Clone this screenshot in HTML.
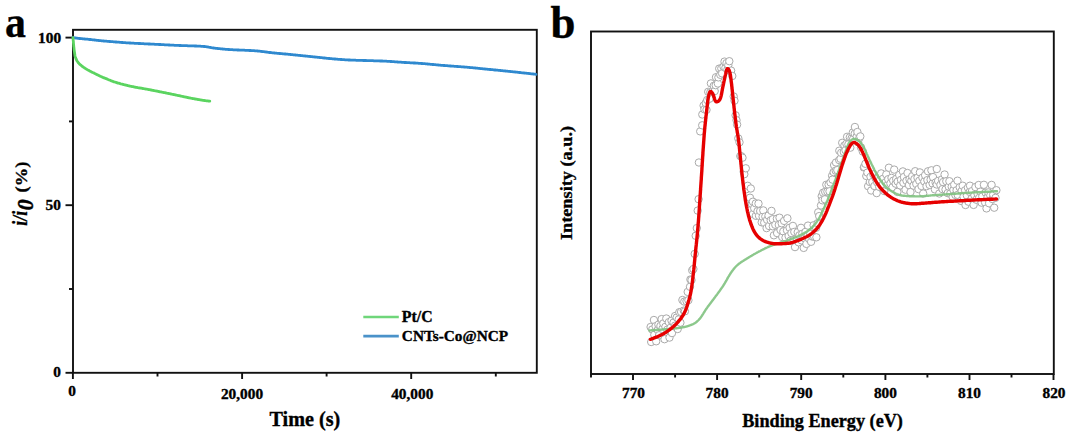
<!DOCTYPE html>
<html><head><meta charset="utf-8"><style>
html,body{margin:0;padding:0;background:#fff;width:1070px;height:437px;overflow:hidden;font-family:"Liberation Serif",serif;}
svg{display:block}
</style></head><body>
<svg width="1070" height="437" viewBox="0 0 1070 437">
<rect width="1070" height="437" fill="#fff"/>
<g font-family="Liberation Serif" font-weight="bold" fill="#000" stroke="#000" stroke-width="0.35">
<g transform="matrix(0.9511 0 0 1.0217 4.98 37.17)"><text x="0" y="0" font-size="44" text-anchor="start">a</text></g>
<g transform="matrix(0.9965 0 0 1.0206 550.60 38.00)"><text x="0" y="0" font-size="45" text-anchor="start">b</text></g>
<g transform="matrix(1.0500 0 0 1.0500 61.11 42.52)"><text x="0" y="0" font-size="14.6" text-anchor="end">100</text></g>
<g transform="matrix(1.0500 0 0 1.0500 60.94 209.87)"><text x="0" y="0" font-size="14.6" text-anchor="end">50</text></g>
<g transform="matrix(1.0500 0 0 1.0500 60.84 377.06)"><text x="0" y="0" font-size="14.6" text-anchor="end">0</text></g>
<g transform="matrix(1.0500 0 0 1.0500 72.06 396.22)"><text x="0" y="0" font-size="14.6" text-anchor="middle">0</text></g>
<g transform="matrix(1.0500 0 0 1.0500 242.00 399.11)"><text x="0" y="0" font-size="14.6" text-anchor="middle">20,000</text></g>
<g transform="matrix(1.0500 0 0 1.0500 412.23 398.71)"><text x="0" y="0" font-size="14.6" text-anchor="middle">40,000</text></g>
<g transform="matrix(0.9989 0 0 1.0114 304.86 425.75)"><text x="0" y="0" font-size="20.2" text-anchor="middle">Time (s)</text></g>
<g transform="matrix(1.0001 0 0 0.8804 26.50 225.65)"><text x="0" y="0" font-size="20" text-anchor="start" transform="rotate(-90)"><tspan font-style="italic">i/i</tspan></text></g>
<g transform="matrix(1.1132 0 0 1.0592 32.80 210.13)"><text x="0" y="0" font-size="20.5" text-anchor="start" transform="rotate(-90)"><tspan font-style="italic">0</tspan></text></g>
<g transform="matrix(0.9307 0 0 1.0550 26.78 192.38)"><text x="0" y="0" font-size="17.5" text-anchor="start" transform="rotate(-90)">(%)</text></g>
<g transform="matrix(1.0543 0 0 1.0543 401.83 322.40)"><text x="0" y="0" font-size="15" text-anchor="start">Pt/C</text></g>
<g transform="matrix(1.0196 0 0 1.0196 401.86 341.40)"><text x="0" y="0" font-size="15" text-anchor="start">CNTs-Co@NCP</text></g>
<g transform="matrix(0.8785 0 0 0.9933 571.90 183.00)"><text x="0" y="0" font-size="18.4" text-anchor="middle" transform="rotate(-90)">Intensity (a.u.)</text></g>
<g transform="matrix(1.0057 0 0 1.0057 822.55 427.07)"><text x="0" y="0" font-size="18.1" text-anchor="middle">Binding Energy (eV)</text></g>
<g transform="matrix(1.0500 0 0 1.0500 633.48 397.53)"><text x="0" y="0" font-size="14.6" text-anchor="middle">770</text></g>
<g transform="matrix(1.0500 0 0 1.0500 717.08 397.99)"><text x="0" y="0" font-size="14.6" text-anchor="middle">780</text></g>
<g transform="matrix(1.0500 0 0 1.0500 801.18 397.53)"><text x="0" y="0" font-size="14.6" text-anchor="middle">790</text></g>
<g transform="matrix(1.0500 0 0 1.0500 885.40 397.99)"><text x="0" y="0" font-size="14.6" text-anchor="middle">800</text></g>
<g transform="matrix(1.0500 0 0 1.0500 969.49 397.53)"><text x="0" y="0" font-size="14.6" text-anchor="middle">810</text></g>
<g transform="matrix(1.0500 0 0 1.0500 1054.00 397.99)"><text x="0" y="0" font-size="14.6" text-anchor="middle">820</text></g>
</g>
<rect x="73" y="29.8" width="463.8" height="343" fill="none" stroke="#111" stroke-width="1.9"/>
<line x1="65.5" y1="372.8" x2="73" y2="372.8" stroke="#111" stroke-width="1.9"/>
<line x1="65.5" y1="205.2" x2="73" y2="205.2" stroke="#111" stroke-width="1.9"/>
<line x1="65.5" y1="37.6" x2="73" y2="37.6" stroke="#111" stroke-width="1.9"/>
<line x1="69" y1="289.0" x2="73" y2="289.0" stroke="#111" stroke-width="1.9"/>
<line x1="69" y1="121.4" x2="73" y2="121.4" stroke="#111" stroke-width="1.9"/>
<line x1="72.9" y1="372.8" x2="72.9" y2="379" stroke="#111" stroke-width="1.9"/>
<line x1="242.1" y1="372.8" x2="242.1" y2="379" stroke="#111" stroke-width="1.9"/>
<line x1="411.2" y1="372.8" x2="411.2" y2="379" stroke="#111" stroke-width="1.9"/>
<line x1="157.5" y1="372.8" x2="157.5" y2="376.5" stroke="#111" stroke-width="1.9"/>
<line x1="326.6" y1="372.8" x2="326.6" y2="376.5" stroke="#111" stroke-width="1.9"/>
<line x1="495.8" y1="372.8" x2="495.8" y2="376.5" stroke="#111" stroke-width="1.9"/>
<path d="M73.0 37.6 L73.8 37.7 L74.5 37.8 L75.1 37.9 L75.8 38.0 L76.5 38.1 L77.2 38.2 L77.9 38.3 L78.6 38.4 L79.3 38.5 L80.0 38.5 L80.7 38.6 L81.4 38.7 L82.1 38.7 L82.7 38.8 L83.4 38.9 L84.1 38.9 L84.8 39.0 L85.5 39.1 L86.2 39.1 L86.9 39.2 L87.6 39.2 L88.3 39.3 L89.0 39.4 L89.7 39.5 L90.4 39.5 L91.1 39.6 L91.8 39.7 L92.5 39.8 L93.2 39.9 L93.9 39.9 L94.6 40.0 L95.3 40.1 L96.0 40.2 L96.7 40.3 L97.4 40.4 L98.1 40.4 L98.8 40.5 L99.5 40.6 L100.2 40.7 L100.9 40.7 L101.6 40.8 L102.3 40.9 L103.0 40.9 L103.7 41.0 L104.4 41.1 L105.1 41.1 L105.8 41.2 L106.5 41.2 L107.2 41.3 L107.9 41.3 L108.6 41.4 L109.3 41.5 L110.0 41.5 L110.7 41.6 L111.4 41.6 L112.1 41.7 L112.8 41.7 L113.5 41.8 L114.2 41.8 L114.9 41.9 L115.6 42.0 L116.3 42.0 L117.0 42.1 L117.7 42.1 L118.4 42.2 L119.1 42.2 L119.8 42.3 L120.5 42.4 L121.2 42.4 L121.9 42.5 L122.6 42.5 L123.3 42.6 L124.0 42.6 L124.7 42.7 L125.4 42.7 L126.1 42.8 L126.8 42.8 L127.5 42.9 L128.2 42.9 L128.9 42.9 L129.6 43.0 L130.3 43.0 L131.0 43.1 L131.7 43.1 L132.4 43.1 L133.1 43.2 L133.8 43.2 L134.5 43.3 L135.2 43.3 L135.9 43.3 L136.6 43.4 L137.3 43.4 L138.0 43.4 L138.7 43.5 L139.4 43.5 L140.1 43.5 L140.8 43.6 L141.5 43.6 L142.2 43.6 L142.9 43.7 L143.6 43.7 L144.3 43.8 L145.0 43.8 L145.7 43.8 L146.4 43.9 L147.1 43.9 L147.8 43.9 L148.5 44.0 L149.2 44.0 L149.9 44.0 L150.6 44.1 L151.3 44.1 L152.0 44.1 L152.7 44.2 L153.4 44.2 L154.1 44.2 L154.8 44.3 L155.5 44.3 L156.2 44.3 L156.9 44.4 L157.6 44.4 L158.3 44.4 L159.0 44.5 L159.7 44.5 L160.4 44.5 L161.1 44.6 L161.8 44.6 L162.5 44.7 L163.2 44.7 L163.9 44.7 L164.6 44.8 L165.3 44.8 L166.0 44.8 L166.7 44.9 L167.4 44.9 L168.1 44.9 L168.8 45.0 L169.5 45.0 L170.2 45.1 L170.9 45.1 L171.6 45.1 L172.3 45.2 L173.0 45.2 L173.7 45.2 L174.4 45.3 L175.1 45.3 L175.9 45.3 L176.6 45.4 L177.3 45.4 L178.0 45.4 L178.7 45.4 L179.4 45.5 L180.1 45.5 L180.8 45.5 L181.5 45.6 L182.2 45.6 L182.9 45.6 L183.6 45.6 L184.3 45.6 L185.0 45.7 L185.7 45.7 L186.4 45.7 L187.1 45.7 L187.8 45.8 L188.5 45.8 L189.2 45.8 L189.9 45.8 L190.6 45.8 L191.3 45.9 L192.0 45.9 L192.7 45.9 L193.4 45.9 L194.1 45.9 L194.8 46.0 L195.5 46.0 L196.2 46.0 L196.9 46.1 L197.6 46.1 L198.3 46.1 L199.0 46.2 L199.7 46.2 L200.4 46.2 L201.1 46.3 L201.8 46.3 L202.5 46.4 L203.2 46.4 L203.9 46.5 L204.6 46.5 L205.3 46.6 L206.0 46.7 L206.7 46.8 L207.4 46.9 L208.1 47.0 L208.8 47.2 L209.5 47.3 L210.1 47.4 L210.8 47.5 L211.5 47.7 L212.2 47.8 L212.9 47.9 L213.6 48.0 L214.3 48.1 L215.0 48.2 L215.7 48.3 L216.4 48.3 L217.1 48.4 L217.8 48.5 L218.5 48.6 L219.2 48.7 L219.9 48.7 L220.6 48.8 L221.3 48.9 L222.0 48.9 L222.7 49.0 L223.4 49.1 L224.1 49.1 L224.8 49.2 L225.5 49.3 L226.2 49.3 L226.9 49.4 L227.6 49.4 L228.3 49.5 L229.0 49.5 L229.7 49.6 L230.4 49.6 L231.1 49.7 L231.8 49.7 L232.5 49.7 L233.2 49.8 L233.9 49.8 L234.6 49.9 L235.3 49.9 L236.0 49.9 L236.7 49.9 L237.4 50.0 L238.1 50.0 L238.8 50.0 L239.5 50.1 L240.2 50.1 L240.9 50.1 L241.6 50.1 L242.3 50.2 L243.0 50.2 L243.7 50.2 L244.4 50.2 L245.1 50.3 L245.8 50.3 L246.5 50.3 L247.2 50.4 L247.9 50.4 L248.6 50.4 L249.3 50.5 L250.0 50.5 L250.7 50.5 L251.4 50.6 L252.1 50.6 L252.8 50.6 L253.5 50.7 L254.2 50.7 L254.9 50.8 L255.6 50.8 L256.3 50.9 L257.0 50.9 L257.7 51.0 L258.4 51.1 L259.1 51.1 L259.8 51.2 L260.5 51.3 L261.2 51.4 L261.9 51.5 L262.6 51.6 L263.3 51.7 L264.0 51.7 L264.7 51.8 L265.4 51.9 L266.1 52.0 L266.8 52.1 L267.5 52.2 L268.2 52.3 L268.9 52.4 L269.5 52.5 L270.2 52.5 L270.9 52.6 L271.6 52.7 L272.3 52.8 L273.0 52.8 L273.7 52.9 L274.4 53.0 L275.1 53.1 L275.8 53.1 L276.5 53.2 L277.2 53.3 L277.9 53.3 L278.6 53.4 L279.3 53.5 L280.0 53.5 L280.7 53.6 L281.4 53.7 L282.1 53.7 L282.8 53.8 L283.5 53.8 L284.2 53.9 L284.9 54.0 L285.6 54.0 L286.3 54.1 L287.0 54.2 L287.7 54.2 L288.4 54.3 L289.1 54.4 L289.8 54.4 L290.5 54.5 L291.2 54.6 L291.9 54.6 L292.6 54.7 L293.3 54.8 L294.0 54.9 L294.7 54.9 L295.4 55.0 L296.1 55.1 L296.8 55.1 L297.5 55.2 L298.2 55.3 L298.9 55.3 L299.6 55.4 L300.3 55.5 L301.0 55.6 L301.7 55.6 L302.4 55.7 L303.1 55.8 L303.8 55.8 L304.5 55.9 L305.2 56.0 L305.9 56.1 L306.6 56.1 L307.3 56.2 L308.0 56.3 L308.7 56.4 L309.4 56.4 L310.1 56.5 L310.8 56.6 L311.5 56.6 L312.2 56.7 L312.9 56.8 L313.5 56.9 L314.2 56.9 L314.9 57.0 L315.6 57.1 L316.3 57.2 L317.0 57.2 L317.7 57.3 L318.4 57.4 L319.1 57.4 L319.8 57.5 L320.5 57.6 L321.2 57.7 L321.9 57.7 L322.6 57.8 L323.3 57.9 L324.0 58.0 L324.7 58.0 L325.4 58.1 L326.1 58.2 L326.8 58.3 L327.5 58.3 L328.2 58.4 L328.9 58.5 L329.6 58.5 L330.3 58.6 L331.0 58.7 L331.7 58.7 L332.4 58.8 L333.1 58.9 L333.8 58.9 L334.5 59.0 L335.2 59.0 L335.9 59.1 L336.6 59.2 L337.3 59.2 L338.0 59.3 L338.7 59.3 L339.4 59.4 L340.1 59.4 L340.8 59.5 L341.5 59.5 L342.2 59.6 L342.9 59.6 L343.6 59.7 L344.3 59.7 L345.0 59.8 L345.7 59.8 L346.4 59.8 L347.1 59.9 L347.8 59.9 L348.5 60.0 L349.2 60.0 L349.9 60.0 L350.6 60.1 L351.3 60.1 L352.0 60.1 L352.7 60.1 L353.4 60.2 L354.1 60.2 L354.8 60.2 L355.5 60.2 L356.2 60.3 L356.9 60.3 L357.6 60.3 L358.3 60.3 L359.0 60.3 L359.7 60.4 L360.4 60.4 L361.1 60.4 L361.8 60.4 L362.5 60.4 L363.2 60.5 L363.9 60.5 L364.6 60.5 L365.3 60.5 L366.0 60.5 L366.7 60.6 L367.4 60.6 L368.1 60.6 L368.8 60.6 L369.5 60.6 L370.3 60.7 L371.0 60.7 L371.7 60.7 L372.4 60.7 L373.1 60.7 L373.8 60.8 L374.5 60.8 L375.2 60.8 L375.9 60.8 L376.6 60.9 L377.3 60.9 L378.0 60.9 L378.7 60.9 L379.4 60.9 L380.1 61.0 L380.8 61.0 L381.5 61.0 L382.2 61.0 L382.9 61.1 L383.6 61.1 L384.3 61.1 L385.0 61.2 L385.7 61.2 L386.4 61.2 L387.1 61.3 L387.8 61.3 L388.5 61.3 L389.2 61.4 L389.9 61.4 L390.6 61.5 L391.3 61.5 L392.0 61.6 L392.7 61.6 L393.4 61.7 L394.1 61.7 L394.8 61.8 L395.5 61.8 L396.2 61.9 L396.9 61.9 L397.6 62.0 L398.3 62.1 L399.0 62.1 L399.7 62.2 L400.4 62.2 L401.1 62.2 L401.8 62.3 L402.5 62.3 L403.2 62.4 L403.9 62.4 L404.6 62.5 L405.3 62.5 L406.0 62.5 L406.7 62.6 L407.4 62.6 L408.1 62.7 L408.8 62.7 L409.5 62.7 L410.2 62.8 L410.9 62.8 L411.6 62.8 L412.3 62.9 L413.0 62.9 L413.7 63.0 L414.4 63.0 L415.1 63.0 L415.8 63.1 L416.5 63.1 L417.2 63.2 L417.9 63.2 L418.6 63.3 L419.3 63.3 L420.0 63.4 L420.7 63.4 L421.4 63.5 L422.1 63.5 L422.8 63.6 L423.5 63.6 L424.2 63.7 L424.9 63.7 L425.6 63.8 L426.3 63.9 L427.0 63.9 L427.7 64.0 L428.4 64.1 L429.1 64.1 L429.8 64.2 L430.5 64.3 L431.2 64.3 L431.9 64.4 L432.6 64.5 L433.3 64.5 L434.0 64.6 L434.7 64.7 L435.4 64.7 L436.1 64.8 L436.8 64.9 L437.5 64.9 L438.2 65.0 L438.9 65.1 L439.6 65.1 L440.3 65.2 L441.0 65.3 L441.7 65.3 L442.4 65.4 L443.1 65.4 L443.8 65.5 L444.5 65.5 L445.2 65.6 L445.9 65.6 L446.6 65.7 L447.3 65.7 L448.0 65.8 L448.7 65.9 L449.4 65.9 L450.1 66.0 L450.8 66.0 L451.5 66.1 L452.2 66.1 L452.9 66.2 L453.6 66.2 L454.3 66.3 L455.0 66.3 L455.7 66.4 L456.4 66.4 L457.1 66.5 L457.8 66.5 L458.5 66.6 L459.2 66.6 L459.9 66.7 L460.6 66.7 L461.3 66.8 L462.0 66.8 L462.7 66.9 L463.4 66.9 L464.1 67.0 L464.8 67.1 L465.5 67.1 L466.2 67.2 L466.9 67.2 L467.6 67.3 L468.3 67.4 L469.0 67.4 L469.7 67.5 L470.4 67.6 L471.1 67.6 L471.8 67.7 L472.5 67.7 L473.2 67.8 L473.9 67.9 L474.6 67.9 L475.3 68.0 L476.0 68.1 L476.7 68.2 L477.4 68.2 L478.1 68.3 L478.8 68.4 L479.5 68.4 L480.1 68.5 L480.8 68.6 L481.5 68.6 L482.2 68.7 L482.9 68.8 L483.6 68.8 L484.3 68.9 L485.0 69.0 L485.7 69.1 L486.4 69.1 L487.1 69.2 L487.8 69.3 L488.5 69.3 L489.2 69.4 L489.9 69.5 L490.6 69.5 L491.3 69.6 L492.0 69.7 L492.7 69.7 L493.4 69.8 L494.1 69.9 L494.8 70.0 L495.5 70.0 L496.2 70.1 L496.9 70.2 L497.6 70.2 L498.3 70.3 L499.0 70.4 L499.7 70.4 L500.4 70.5 L501.1 70.6 L501.8 70.7 L502.5 70.7 L503.2 70.8 L503.9 70.9 L504.6 70.9 L505.3 71.0 L506.0 71.1 L506.7 71.1 L507.4 71.2 L508.1 71.3 L508.8 71.4 L509.5 71.4 L510.2 71.5 L510.9 71.6 L511.6 71.7 L512.3 71.7 L513.0 71.8 L513.7 71.9 L514.4 71.9 L515.1 72.0 L515.8 72.1 L516.5 72.2 L517.2 72.2 L517.9 72.3 L518.6 72.4 L519.3 72.5 L520.0 72.5 L520.7 72.6 L521.3 72.7 L522.0 72.8 L522.7 72.8 L523.4 72.9 L524.1 73.0 L524.8 73.1 L525.5 73.1 L526.2 73.2 L526.9 73.3 L527.6 73.4 L528.3 73.4 L529.0 73.5 L529.7 73.6 L530.4 73.7 L531.1 73.8 L531.8 73.8 L532.5 73.9 L533.2 74.0 L533.9 74.1 L534.5 74.1 L535.2 74.2 L536.0 74.3" fill="none" stroke="#2f89cf" stroke-width="2.8" stroke-linejoin="round" stroke-linecap="round"/>
<path d="M73.0 37.6 L73.1 38.4 L73.1 39.1 L73.2 39.8 L73.2 40.4 L73.3 41.1 L73.4 41.8 L73.4 42.5 L73.5 43.2 L73.5 43.9 L73.6 44.6 L73.7 45.3 L73.7 46.0 L73.8 46.7 L73.9 47.4 L74.0 48.1 L74.0 48.8 L74.1 49.5 L74.2 50.2 L74.3 50.9 L74.4 51.6 L74.5 52.3 L74.6 53.0 L74.7 53.7 L74.8 54.4 L74.9 55.1 L75.0 55.8 L75.2 56.5 L75.4 57.1 L75.6 57.8 L75.9 58.5 L76.1 59.1 L76.4 59.7 L76.7 60.4 L77.1 61.0 L77.5 61.5 L77.9 62.1 L78.3 62.7 L78.8 63.2 L79.2 63.7 L79.7 64.2 L80.2 64.7 L80.8 65.1 L81.3 65.6 L81.9 66.0 L82.4 66.5 L83.0 66.9 L83.6 67.3 L84.2 67.7 L84.7 68.1 L85.3 68.4 L85.9 68.8 L86.5 69.2 L87.1 69.5 L87.8 69.9 L88.4 70.2 L89.0 70.6 L89.6 70.9 L90.2 71.2 L90.9 71.6 L91.5 71.9 L92.1 72.2 L92.7 72.5 L93.4 72.8 L94.0 73.1 L94.6 73.4 L95.3 73.8 L95.9 74.1 L96.5 74.4 L97.2 74.7 L97.8 75.0 L98.4 75.3 L99.1 75.6 L99.7 75.9 L100.3 76.2 L101.0 76.5 L101.6 76.8 L102.2 77.1 L102.9 77.4 L103.5 77.6 L104.2 77.9 L104.8 78.2 L105.5 78.4 L106.2 78.7 L106.8 78.9 L107.5 79.2 L108.1 79.5 L108.8 79.8 L109.4 80.0 L110.1 80.3 L110.7 80.6 L111.4 80.8 L112.0 81.1 L112.7 81.3 L113.3 81.6 L114.0 81.8 L114.7 82.0 L115.3 82.2 L116.0 82.4 L116.7 82.6 L117.4 82.9 L118.0 83.1 L118.7 83.2 L119.4 83.4 L120.1 83.6 L120.7 83.8 L121.4 84.0 L122.1 84.2 L122.8 84.4 L123.5 84.5 L124.1 84.7 L124.8 84.9 L125.5 85.0 L126.2 85.2 L126.9 85.4 L127.6 85.5 L128.2 85.7 L128.9 85.9 L129.6 86.0 L130.3 86.2 L131.0 86.3 L131.7 86.5 L132.4 86.6 L133.1 86.7 L133.8 86.9 L134.4 87.0 L135.1 87.1 L135.8 87.3 L136.5 87.4 L137.2 87.5 L137.9 87.7 L138.6 87.8 L139.3 87.9 L140.0 88.0 L140.7 88.1 L141.4 88.2 L142.1 88.4 L142.8 88.5 L143.5 88.6 L144.1 88.7 L144.8 88.8 L145.5 89.0 L146.2 89.1 L146.9 89.2 L147.6 89.3 L148.3 89.5 L149.0 89.6 L149.7 89.7 L150.4 89.9 L151.1 90.0 L151.8 90.1 L152.4 90.3 L153.1 90.4 L153.8 90.5 L154.5 90.7 L155.2 90.8 L155.9 90.9 L156.6 91.1 L157.3 91.2 L158.0 91.4 L158.7 91.5 L159.4 91.6 L160.0 91.8 L160.7 91.9 L161.4 92.0 L162.1 92.2 L162.8 92.3 L163.5 92.5 L164.2 92.6 L164.9 92.7 L165.6 92.9 L166.2 93.0 L166.9 93.2 L167.6 93.3 L168.3 93.4 L169.0 93.6 L169.7 93.7 L170.4 93.9 L171.1 94.0 L171.8 94.2 L172.5 94.3 L173.1 94.4 L173.8 94.6 L174.5 94.7 L175.2 94.9 L175.9 95.0 L176.6 95.2 L177.3 95.3 L178.0 95.5 L178.6 95.6 L179.3 95.7 L180.0 95.9 L180.7 96.0 L181.4 96.2 L182.1 96.3 L182.8 96.5 L183.5 96.6 L184.2 96.8 L184.8 96.9 L185.5 97.1 L186.2 97.2 L186.9 97.4 L187.6 97.5 L188.3 97.6 L189.0 97.8 L189.7 97.9 L190.4 98.1 L191.0 98.2 L191.7 98.3 L192.4 98.5 L193.1 98.6 L193.8 98.7 L194.5 98.9 L195.2 99.0 L195.9 99.1 L196.6 99.2 L197.3 99.4 L198.0 99.5 L198.7 99.6 L199.4 99.7 L200.0 99.8 L200.7 99.9 L201.4 100.1 L202.1 100.2 L202.8 100.3 L203.5 100.4 L204.2 100.5 L204.9 100.6 L205.6 100.7 L206.3 100.8 L207.0 100.8 L207.7 100.9 L208.3 101.0 L209.0 101.1 L209.8 101.2" fill="none" stroke="#5bd460" stroke-width="2.8" stroke-linejoin="round" stroke-linecap="round"/>
<line x1="363.3" y1="317" x2="398.8" y2="317" stroke="#6fd67a" stroke-width="2.6"/>
<line x1="363.3" y1="336.1" x2="398.8" y2="336.1" stroke="#4a92c9" stroke-width="2.6"/>
<rect x="591" y="31.5" width="462.8" height="342.5" fill="none" stroke="#111" stroke-width="1.9"/>
<line x1="633.0" y1="374" x2="633.0" y2="380" stroke="#111" stroke-width="1.9"/>
<line x1="717.1" y1="374" x2="717.1" y2="380" stroke="#111" stroke-width="1.9"/>
<line x1="801.2" y1="374" x2="801.2" y2="380" stroke="#111" stroke-width="1.9"/>
<line x1="885.4" y1="374" x2="885.4" y2="380" stroke="#111" stroke-width="1.9"/>
<line x1="969.5" y1="374" x2="969.5" y2="380" stroke="#111" stroke-width="1.9"/>
<line x1="1053.5" y1="374" x2="1053.5" y2="380" stroke="#111" stroke-width="1.9"/>
<line x1="591.0" y1="374" x2="591.0" y2="377.5" stroke="#111" stroke-width="1.9"/>
<line x1="675.1" y1="374" x2="675.1" y2="377.5" stroke="#111" stroke-width="1.9"/>
<line x1="759.2" y1="374" x2="759.2" y2="377.5" stroke="#111" stroke-width="1.9"/>
<line x1="843.3" y1="374" x2="843.3" y2="377.5" stroke="#111" stroke-width="1.9"/>
<line x1="927.4" y1="374" x2="927.4" y2="377.5" stroke="#111" stroke-width="1.9"/>
<line x1="1011.5" y1="374" x2="1011.5" y2="377.5" stroke="#111" stroke-width="1.9"/>
<g fill="#fff" stroke="#aaaaaa" stroke-width="1.0">
<circle cx="650.6" cy="327.0" r="3.7"/>
<circle cx="651.2" cy="342.0" r="3.7"/>
<circle cx="652.2" cy="329.5" r="3.7"/>
<circle cx="653.9" cy="320.0" r="3.7"/>
<circle cx="654.3" cy="334.8" r="3.7"/>
<circle cx="655.6" cy="326.2" r="3.7"/>
<circle cx="656.2" cy="341.3" r="3.7"/>
<circle cx="657.7" cy="330.0" r="3.7"/>
<circle cx="658.4" cy="324.7" r="3.7"/>
<circle cx="659.1" cy="335.2" r="3.7"/>
<circle cx="660.4" cy="326.0" r="3.7"/>
<circle cx="661.6" cy="319.1" r="3.7"/>
<circle cx="662.4" cy="328.9" r="3.7"/>
<circle cx="663.3" cy="323.4" r="3.7"/>
<circle cx="664.5" cy="339.2" r="3.7"/>
<circle cx="665.4" cy="326.8" r="3.7"/>
<circle cx="666.3" cy="318.5" r="3.7"/>
<circle cx="667.3" cy="329.7" r="3.7"/>
<circle cx="668.8" cy="322.2" r="3.7"/>
<circle cx="669.5" cy="337.6" r="3.7"/>
<circle cx="670.5" cy="327.8" r="3.7"/>
<circle cx="671.5" cy="320.7" r="3.7"/>
<circle cx="672.0" cy="333.1" r="3.7"/>
<circle cx="673.5" cy="322.6" r="3.7"/>
<circle cx="675.1" cy="316.0" r="3.7"/>
<circle cx="675.1" cy="325.6" r="3.7"/>
<circle cx="676.7" cy="317.5" r="3.7"/>
<circle cx="677.7" cy="329.0" r="3.7"/>
<circle cx="678.7" cy="319.4" r="3.7"/>
<circle cx="679.3" cy="312.2" r="3.7"/>
<circle cx="680.4" cy="322.7" r="3.7"/>
<circle cx="681.1" cy="311.9" r="3.7"/>
<circle cx="682.4" cy="300.0" r="3.7"/>
<circle cx="683.8" cy="310.6" r="3.7"/>
<circle cx="684.3" cy="301.6" r="3.7"/>
<circle cx="684.9" cy="311.3" r="3.7"/>
<circle cx="686.5" cy="301.1" r="3.7"/>
<circle cx="687.7" cy="291.9" r="3.7"/>
<circle cx="688.4" cy="300.2" r="3.7"/>
<circle cx="690.0" cy="286.8" r="3.7"/>
<circle cx="690.4" cy="279.5" r="3.7"/>
<circle cx="691.5" cy="280.1" r="3.7"/>
<circle cx="692.2" cy="270.3" r="3.7"/>
<circle cx="693.4" cy="269.0" r="3.7"/>
<circle cx="694.7" cy="253.9" r="3.7"/>
<circle cx="695.7" cy="235.8" r="3.7"/>
<circle cx="696.8" cy="228.1" r="3.7"/>
<circle cx="697.7" cy="210.6" r="3.7"/>
<circle cx="698.6" cy="199.2" r="3.7"/>
<circle cx="698.9" cy="162.5" r="3.7"/>
<circle cx="700.2" cy="131.4" r="3.7"/>
<circle cx="702.2" cy="125.3" r="3.7"/>
<circle cx="702.3" cy="114.5" r="3.7"/>
<circle cx="703.6" cy="105.6" r="3.7"/>
<circle cx="704.4" cy="109.3" r="3.7"/>
<circle cx="705.7" cy="103.0" r="3.7"/>
<circle cx="706.5" cy="109.9" r="3.7"/>
<circle cx="707.2" cy="100.0" r="3.7"/>
<circle cx="708.2" cy="91.8" r="3.7"/>
<circle cx="709.6" cy="98.7" r="3.7"/>
<circle cx="710.3" cy="92.3" r="3.7"/>
<circle cx="710.9" cy="83.4" r="3.7"/>
<circle cx="712.6" cy="91.1" r="3.7"/>
<circle cx="713.8" cy="85.8" r="3.7"/>
<circle cx="714.7" cy="91.1" r="3.7"/>
<circle cx="715.7" cy="85.2" r="3.7"/>
<circle cx="716.0" cy="77.2" r="3.7"/>
<circle cx="717.9" cy="83.5" r="3.7"/>
<circle cx="718.4" cy="77.4" r="3.7"/>
<circle cx="719.2" cy="68.6" r="3.7"/>
<circle cx="720.3" cy="74.8" r="3.7"/>
<circle cx="721.3" cy="68.4" r="3.7"/>
<circle cx="722.1" cy="73.4" r="3.7"/>
<circle cx="723.5" cy="66.6" r="3.7"/>
<circle cx="724.5" cy="61.6" r="3.7"/>
<circle cx="725.4" cy="67.8" r="3.7"/>
<circle cx="726.5" cy="63.1" r="3.7"/>
<circle cx="727.4" cy="69.6" r="3.7"/>
<circle cx="728.3" cy="65.2" r="3.7"/>
<circle cx="729.3" cy="61.2" r="3.7"/>
<circle cx="730.6" cy="71.5" r="3.7"/>
<circle cx="731.1" cy="70.6" r="3.7"/>
<circle cx="732.3" cy="76.0" r="3.7"/>
<circle cx="733.7" cy="96.5" r="3.7"/>
<circle cx="734.5" cy="100.7" r="3.7"/>
<circle cx="735.6" cy="115.3" r="3.7"/>
<circle cx="736.5" cy="120.2" r="3.7"/>
<circle cx="737.1" cy="124.6" r="3.7"/>
<circle cx="738.3" cy="138.4" r="3.7"/>
<circle cx="739.5" cy="142.3" r="3.7"/>
<circle cx="740.3" cy="156.1" r="3.7"/>
<circle cx="741.4" cy="156.3" r="3.7"/>
<circle cx="742.5" cy="157.7" r="3.7"/>
<circle cx="743.7" cy="171.8" r="3.7"/>
<circle cx="744.3" cy="174.2" r="3.7"/>
<circle cx="745.8" cy="168.3" r="3.7"/>
<circle cx="746.5" cy="189.1" r="3.7"/>
<circle cx="747.7" cy="185.8" r="3.7"/>
<circle cx="748.8" cy="203.3" r="3.7"/>
<circle cx="750.0" cy="197.7" r="3.7"/>
<circle cx="750.8" cy="188.5" r="3.7"/>
<circle cx="751.8" cy="203.8" r="3.7"/>
<circle cx="752.9" cy="201.7" r="3.7"/>
<circle cx="753.0" cy="214.0" r="3.7"/>
<circle cx="754.2" cy="208.2" r="3.7"/>
<circle cx="755.8" cy="203.4" r="3.7"/>
<circle cx="755.9" cy="215.8" r="3.7"/>
<circle cx="757.5" cy="211.2" r="3.7"/>
<circle cx="758.5" cy="203.6" r="3.7"/>
<circle cx="759.0" cy="215.8" r="3.7"/>
<circle cx="760.2" cy="211.0" r="3.7"/>
<circle cx="761.7" cy="222.3" r="3.7"/>
<circle cx="762.6" cy="216.7" r="3.7"/>
<circle cx="763.3" cy="210.4" r="3.7"/>
<circle cx="764.2" cy="222.8" r="3.7"/>
<circle cx="765.3" cy="216.5" r="3.7"/>
<circle cx="766.6" cy="228.1" r="3.7"/>
<circle cx="767.1" cy="219.8" r="3.7"/>
<circle cx="768.5" cy="215.6" r="3.7"/>
<circle cx="769.1" cy="226.0" r="3.7"/>
<circle cx="770.7" cy="220.3" r="3.7"/>
<circle cx="771.5" cy="210.9" r="3.7"/>
<circle cx="772.8" cy="226.3" r="3.7"/>
<circle cx="772.8" cy="219.2" r="3.7"/>
<circle cx="773.9" cy="235.3" r="3.7"/>
<circle cx="775.3" cy="224.8" r="3.7"/>
<circle cx="776.9" cy="218.7" r="3.7"/>
<circle cx="777.1" cy="233.1" r="3.7"/>
<circle cx="778.8" cy="224.9" r="3.7"/>
<circle cx="779.5" cy="217.7" r="3.7"/>
<circle cx="780.5" cy="230.0" r="3.7"/>
<circle cx="781.7" cy="223.3" r="3.7"/>
<circle cx="782.2" cy="237.0" r="3.7"/>
<circle cx="783.3" cy="231.4" r="3.7"/>
<circle cx="784.1" cy="220.9" r="3.7"/>
<circle cx="785.5" cy="237.6" r="3.7"/>
<circle cx="787.0" cy="230.3" r="3.7"/>
<circle cx="787.4" cy="218.3" r="3.7"/>
<circle cx="788.6" cy="236.0" r="3.7"/>
<circle cx="789.6" cy="227.8" r="3.7"/>
<circle cx="790.5" cy="240.6" r="3.7"/>
<circle cx="791.4" cy="233.1" r="3.7"/>
<circle cx="792.9" cy="225.9" r="3.7"/>
<circle cx="793.5" cy="240.1" r="3.7"/>
<circle cx="794.3" cy="231.9" r="3.7"/>
<circle cx="795.0" cy="247.1" r="3.7"/>
<circle cx="796.8" cy="239.0" r="3.7"/>
<circle cx="797.7" cy="232.2" r="3.7"/>
<circle cx="798.6" cy="242.3" r="3.7"/>
<circle cx="799.4" cy="235.3" r="3.7"/>
<circle cx="801.0" cy="227.8" r="3.7"/>
<circle cx="801.5" cy="240.3" r="3.7"/>
<circle cx="802.3" cy="233.8" r="3.7"/>
<circle cx="803.7" cy="247.9" r="3.7"/>
<circle cx="804.4" cy="238.3" r="3.7"/>
<circle cx="805.5" cy="231.9" r="3.7"/>
<circle cx="806.4" cy="243.9" r="3.7"/>
<circle cx="807.4" cy="236.0" r="3.7"/>
<circle cx="808.0" cy="225.6" r="3.7"/>
<circle cx="809.2" cy="239.0" r="3.7"/>
<circle cx="810.3" cy="233.7" r="3.7"/>
<circle cx="811.1" cy="241.8" r="3.7"/>
<circle cx="812.4" cy="236.6" r="3.7"/>
<circle cx="813.6" cy="225.3" r="3.7"/>
<circle cx="814.2" cy="236.7" r="3.7"/>
<circle cx="816.1" cy="227.8" r="3.7"/>
<circle cx="816.4" cy="237.3" r="3.7"/>
<circle cx="817.6" cy="223.2" r="3.7"/>
<circle cx="818.2" cy="212.3" r="3.7"/>
<circle cx="819.2" cy="216.1" r="3.7"/>
<circle cx="821.0" cy="205.5" r="3.7"/>
<circle cx="821.7" cy="196.2" r="3.7"/>
<circle cx="822.4" cy="200.3" r="3.7"/>
<circle cx="823.1" cy="192.7" r="3.7"/>
<circle cx="824.9" cy="199.3" r="3.7"/>
<circle cx="825.2" cy="191.9" r="3.7"/>
<circle cx="826.3" cy="184.7" r="3.7"/>
<circle cx="827.4" cy="191.6" r="3.7"/>
<circle cx="828.6" cy="184.6" r="3.7"/>
<circle cx="829.5" cy="191.3" r="3.7"/>
<circle cx="830.5" cy="182.5" r="3.7"/>
<circle cx="832.1" cy="175.8" r="3.7"/>
<circle cx="832.5" cy="179.6" r="3.7"/>
<circle cx="833.6" cy="172.1" r="3.7"/>
<circle cx="834.1" cy="165.1" r="3.7"/>
<circle cx="835.7" cy="170.7" r="3.7"/>
<circle cx="836.0" cy="162.5" r="3.7"/>
<circle cx="837.3" cy="170.1" r="3.7"/>
<circle cx="839.2" cy="160.1" r="3.7"/>
<circle cx="839.3" cy="150.7" r="3.7"/>
<circle cx="840.5" cy="158.8" r="3.7"/>
<circle cx="841.2" cy="152.8" r="3.7"/>
<circle cx="842.2" cy="142.8" r="3.7"/>
<circle cx="843.8" cy="152.0" r="3.7"/>
<circle cx="844.4" cy="145.5" r="3.7"/>
<circle cx="845.5" cy="150.2" r="3.7"/>
<circle cx="846.4" cy="143.8" r="3.7"/>
<circle cx="847.1" cy="136.8" r="3.7"/>
<circle cx="848.4" cy="144.3" r="3.7"/>
<circle cx="849.8" cy="137.3" r="3.7"/>
<circle cx="850.3" cy="147.7" r="3.7"/>
<circle cx="851.6" cy="138.3" r="3.7"/>
<circle cx="852.8" cy="132.5" r="3.7"/>
<circle cx="853.1" cy="139.2" r="3.7"/>
<circle cx="854.7" cy="133.7" r="3.7"/>
<circle cx="854.9" cy="127.0" r="3.7"/>
<circle cx="856.7" cy="136.4" r="3.7"/>
<circle cx="857.4" cy="132.0" r="3.7"/>
<circle cx="858.2" cy="142.4" r="3.7"/>
<circle cx="859.4" cy="137.9" r="3.7"/>
<circle cx="860.3" cy="136.4" r="3.7"/>
<circle cx="861.0" cy="147.4" r="3.7"/>
<circle cx="862.8" cy="151.6" r="3.7"/>
<circle cx="863.8" cy="167.4" r="3.7"/>
<circle cx="864.2" cy="167.0" r="3.7"/>
<circle cx="865.4" cy="163.8" r="3.7"/>
<circle cx="866.3" cy="176.0" r="3.7"/>
<circle cx="867.4" cy="172.6" r="3.7"/>
<circle cx="868.1" cy="186.2" r="3.7"/>
<circle cx="869.8" cy="182.0" r="3.7"/>
<circle cx="870.5" cy="176.8" r="3.7"/>
<circle cx="871.2" cy="190.5" r="3.7"/>
<circle cx="872.3" cy="182.0" r="3.7"/>
<circle cx="873.3" cy="174.3" r="3.7"/>
<circle cx="874.4" cy="186.0" r="3.7"/>
<circle cx="875.7" cy="178.5" r="3.7"/>
<circle cx="876.7" cy="193.1" r="3.7"/>
<circle cx="877.2" cy="182.4" r="3.7"/>
<circle cx="878.5" cy="176.9" r="3.7"/>
<circle cx="879.2" cy="186.8" r="3.7"/>
<circle cx="880.0" cy="180.0" r="3.7"/>
<circle cx="881.2" cy="173.4" r="3.7"/>
<circle cx="882.5" cy="184.9" r="3.7"/>
<circle cx="883.0" cy="178.8" r="3.7"/>
<circle cx="884.3" cy="191.1" r="3.7"/>
<circle cx="885.6" cy="182.3" r="3.7"/>
<circle cx="886.3" cy="174.4" r="3.7"/>
<circle cx="887.3" cy="185.4" r="3.7"/>
<circle cx="888.2" cy="179.2" r="3.7"/>
<circle cx="888.9" cy="167.7" r="3.7"/>
<circle cx="890.4" cy="183.5" r="3.7"/>
<circle cx="891.5" cy="177.9" r="3.7"/>
<circle cx="892.5" cy="187.3" r="3.7"/>
<circle cx="893.2" cy="180.7" r="3.7"/>
<circle cx="894.2" cy="169.6" r="3.7"/>
<circle cx="895.7" cy="183.7" r="3.7"/>
<circle cx="896.2" cy="178.9" r="3.7"/>
<circle cx="897.4" cy="191.9" r="3.7"/>
<circle cx="897.7" cy="181.6" r="3.7"/>
<circle cx="899.2" cy="175.0" r="3.7"/>
<circle cx="900.2" cy="185.4" r="3.7"/>
<circle cx="901.0" cy="179.8" r="3.7"/>
<circle cx="902.9" cy="171.4" r="3.7"/>
<circle cx="903.4" cy="182.8" r="3.7"/>
<circle cx="903.9" cy="177.0" r="3.7"/>
<circle cx="905.5" cy="189.7" r="3.7"/>
<circle cx="906.5" cy="180.8" r="3.7"/>
<circle cx="907.5" cy="173.0" r="3.7"/>
<circle cx="908.9" cy="185.1" r="3.7"/>
<circle cx="909.5" cy="179.3" r="3.7"/>
<circle cx="910.5" cy="192.0" r="3.7"/>
<circle cx="911.3" cy="180.8" r="3.7"/>
<circle cx="912.2" cy="176.2" r="3.7"/>
<circle cx="913.5" cy="185.6" r="3.7"/>
<circle cx="914.4" cy="179.1" r="3.7"/>
<circle cx="915.2" cy="171.2" r="3.7"/>
<circle cx="916.3" cy="184.0" r="3.7"/>
<circle cx="917.5" cy="177.8" r="3.7"/>
<circle cx="918.5" cy="189.1" r="3.7"/>
<circle cx="919.3" cy="180.8" r="3.7"/>
<circle cx="919.9" cy="172.4" r="3.7"/>
<circle cx="921.5" cy="186.0" r="3.7"/>
<circle cx="922.4" cy="177.7" r="3.7"/>
<circle cx="923.2" cy="193.5" r="3.7"/>
<circle cx="924.3" cy="181.5" r="3.7"/>
<circle cx="925.1" cy="175.2" r="3.7"/>
<circle cx="926.5" cy="186.2" r="3.7"/>
<circle cx="927.4" cy="180.1" r="3.7"/>
<circle cx="928.0" cy="171.3" r="3.7"/>
<circle cx="929.6" cy="184.9" r="3.7"/>
<circle cx="930.6" cy="179.7" r="3.7"/>
<circle cx="931.4" cy="170.3" r="3.7"/>
<circle cx="932.6" cy="183.5" r="3.7"/>
<circle cx="933.0" cy="177.1" r="3.7"/>
<circle cx="934.9" cy="189.4" r="3.7"/>
<circle cx="935.6" cy="182.5" r="3.7"/>
<circle cx="936.8" cy="169.0" r="3.7"/>
<circle cx="936.7" cy="184.5" r="3.7"/>
<circle cx="938.1" cy="180.9" r="3.7"/>
<circle cx="939.3" cy="193.5" r="3.7"/>
<circle cx="940.4" cy="184.9" r="3.7"/>
<circle cx="942.0" cy="179.4" r="3.7"/>
<circle cx="942.5" cy="189.1" r="3.7"/>
<circle cx="943.1" cy="182.1" r="3.7"/>
<circle cx="944.6" cy="174.5" r="3.7"/>
<circle cx="945.5" cy="189.5" r="3.7"/>
<circle cx="946.3" cy="181.2" r="3.7"/>
<circle cx="947.7" cy="193.1" r="3.7"/>
<circle cx="948.8" cy="186.6" r="3.7"/>
<circle cx="949.4" cy="181.2" r="3.7"/>
<circle cx="950.2" cy="193.7" r="3.7"/>
<circle cx="951.7" cy="186.7" r="3.7"/>
<circle cx="952.6" cy="197.0" r="3.7"/>
<circle cx="953.4" cy="189.9" r="3.7"/>
<circle cx="954.2" cy="184.7" r="3.7"/>
<circle cx="955.4" cy="195.0" r="3.7"/>
<circle cx="956.6" cy="190.3" r="3.7"/>
<circle cx="957.5" cy="180.7" r="3.7"/>
<circle cx="957.7" cy="194.9" r="3.7"/>
<circle cx="959.7" cy="187.3" r="3.7"/>
<circle cx="961.0" cy="200.9" r="3.7"/>
<circle cx="961.6" cy="191.0" r="3.7"/>
<circle cx="962.7" cy="185.7" r="3.7"/>
<circle cx="963.5" cy="196.6" r="3.7"/>
<circle cx="965.1" cy="190.3" r="3.7"/>
<circle cx="965.5" cy="205.0" r="3.7"/>
<circle cx="966.9" cy="195.5" r="3.7"/>
<circle cx="967.9" cy="187.7" r="3.7"/>
<circle cx="968.4" cy="201.7" r="3.7"/>
<circle cx="969.7" cy="191.9" r="3.7"/>
<circle cx="970.0" cy="185.7" r="3.7"/>
<circle cx="971.6" cy="198.7" r="3.7"/>
<circle cx="972.0" cy="191.1" r="3.7"/>
<circle cx="973.6" cy="204.9" r="3.7"/>
<circle cx="974.4" cy="195.3" r="3.7"/>
<circle cx="975.4" cy="187.1" r="3.7"/>
<circle cx="976.2" cy="199.7" r="3.7"/>
<circle cx="977.6" cy="193.8" r="3.7"/>
<circle cx="978.7" cy="185.0" r="3.7"/>
<circle cx="979.2" cy="197.8" r="3.7"/>
<circle cx="980.4" cy="191.7" r="3.7"/>
<circle cx="981.6" cy="202.7" r="3.7"/>
<circle cx="982.3" cy="196.4" r="3.7"/>
<circle cx="983.9" cy="184.8" r="3.7"/>
<circle cx="985.1" cy="202.5" r="3.7"/>
<circle cx="985.6" cy="192.6" r="3.7"/>
<circle cx="986.5" cy="208.4" r="3.7"/>
<circle cx="987.5" cy="197.3" r="3.7"/>
<circle cx="988.3" cy="192.4" r="3.7"/>
<circle cx="989.1" cy="203.3" r="3.7"/>
<circle cx="990.3" cy="195.5" r="3.7"/>
<circle cx="991.6" cy="184.9" r="3.7"/>
<circle cx="992.4" cy="199.0" r="3.7"/>
<circle cx="993.2" cy="194.6" r="3.7"/>
<circle cx="994.2" cy="207.7" r="3.7"/>
<circle cx="995.5" cy="197.8" r="3.7"/>
<circle cx="996.4" cy="190.2" r="3.7"/>
</g>
<path d="M649.5 330.5 L650.3 330.4 L651.0 330.4 L651.7 330.3 L652.3 330.3 L653.0 330.3 L653.7 330.2 L654.4 330.1 L655.1 330.1 L655.8 330.0 L656.5 330.0 L657.2 329.9 L657.9 329.9 L658.6 329.8 L659.3 329.8 L660.0 329.7 L660.7 329.7 L661.4 329.6 L662.1 329.5 L662.8 329.5 L663.5 329.4 L664.2 329.4 L664.9 329.3 L665.6 329.3 L666.3 329.2 L667.0 329.1 L667.7 329.1 L668.4 329.0 L669.1 329.0 L669.8 328.9 L670.5 328.8 L671.2 328.8 L671.9 328.7 L672.6 328.6 L673.3 328.6 L674.0 328.5 L674.7 328.4 L675.4 328.3 L676.1 328.3 L676.8 328.2 L677.5 328.1 L678.2 328.0 L678.9 327.9 L679.6 327.8 L680.2 327.7 L680.9 327.6 L681.6 327.5 L682.3 327.3 L683.0 327.2 L683.7 327.1 L684.4 327.0 L685.1 326.8 L685.8 326.6 L686.4 326.5 L687.1 326.3 L687.8 326.1 L688.5 325.9 L689.2 325.7 L689.8 325.4 L690.5 325.2 L691.2 324.9 L691.8 324.7 L692.4 324.4 L693.1 324.1 L693.7 323.8 L694.3 323.4 L694.9 323.1 L695.5 322.7 L696.0 322.3 L696.6 321.9 L697.1 321.4 L697.6 321.0 L698.1 320.5 L698.6 320.0 L699.1 319.4 L699.6 318.9 L700.0 318.4 L700.4 317.8 L700.9 317.3 L701.3 316.7 L701.7 316.1 L702.1 315.5 L702.4 315.0 L702.8 314.4 L703.2 313.8 L703.5 313.2 L703.9 312.6 L704.3 312.0 L704.7 311.4 L705.0 310.8 L705.4 310.2 L705.8 309.6 L706.2 309.0 L706.6 308.4 L707.0 307.9 L707.4 307.3 L707.8 306.7 L708.3 306.2 L708.7 305.6 L709.1 305.0 L709.5 304.5 L709.9 303.9 L710.4 303.4 L710.8 302.8 L711.2 302.2 L711.6 301.7 L712.1 301.1 L712.5 300.6 L712.9 300.0 L713.3 299.4 L713.7 298.9 L714.2 298.3 L714.6 297.7 L715.0 297.2 L715.4 296.6 L715.8 296.0 L716.2 295.5 L716.7 294.9 L717.1 294.4 L717.5 293.8 L717.9 293.2 L718.3 292.7 L718.8 292.1 L719.2 291.5 L719.6 291.0 L720.0 290.4 L720.4 289.8 L720.8 289.3 L721.2 288.7 L721.6 288.1 L722.0 287.5 L722.4 287.0 L722.8 286.4 L723.2 285.8 L723.6 285.2 L723.9 284.6 L724.3 284.0 L724.7 283.4 L725.0 282.8 L725.4 282.2 L725.7 281.6 L726.1 281.0 L726.4 280.4 L726.8 279.8 L727.1 279.1 L727.5 278.5 L727.8 277.9 L728.1 277.3 L728.5 276.7 L728.9 276.1 L729.2 275.5 L729.6 274.9 L730.0 274.3 L730.4 273.7 L730.7 273.1 L731.1 272.5 L731.5 272.0 L731.9 271.4 L732.4 270.8 L732.8 270.2 L733.2 269.7 L733.6 269.1 L734.1 268.6 L734.5 268.0 L735.0 267.5 L735.4 267.0 L735.9 266.5 L736.4 266.0 L736.9 265.5 L737.4 265.1 L737.9 264.6 L738.5 264.2 L739.0 263.7 L739.6 263.3 L740.2 262.9 L740.7 262.5 L741.3 262.1 L741.9 261.7 L742.5 261.3 L743.1 261.0 L743.7 260.6 L744.3 260.2 L744.9 259.8 L745.5 259.4 L746.1 259.1 L746.7 258.7 L747.3 258.3 L747.9 257.9 L748.5 257.6 L749.1 257.2 L749.7 256.8 L750.3 256.5 L750.9 256.1 L751.5 255.8 L752.1 255.4 L752.7 255.0 L753.3 254.7 L753.9 254.3 L754.5 254.0 L755.1 253.7 L755.7 253.3 L756.3 253.0 L757.0 252.6 L757.6 252.3 L758.2 252.0 L758.8 251.6 L759.4 251.3 L760.1 251.0 L760.7 250.7 L761.3 250.3 L761.9 250.0 L762.5 249.7 L763.2 249.4 L763.8 249.1 L764.4 248.8 L765.1 248.4 L765.7 248.1 L766.3 247.8 L767.0 247.5 L767.6 247.2 L768.2 247.0 L768.9 246.7 L769.5 246.4 L770.2 246.1 L770.8 245.9 L771.5 245.6 L772.1 245.4 L772.8 245.1 L773.5 244.9 L774.1 244.7 L774.8 244.5 L775.4 244.2 L776.1 244.0 L776.8 243.8 L777.5 243.6 L778.1 243.4 L778.8 243.2 L779.5 243.0 L780.1 242.7 L780.8 242.5 L781.5 242.3 L782.1 242.1 L782.8 241.9 L783.5 241.7 L784.1 241.4 L784.8 241.2 L785.5 241.0 L786.1 240.8 L786.8 240.6 L787.5 240.3 L788.1 240.1 L788.8 239.9 L789.5 239.7 L790.1 239.4 L790.8 239.2 L791.4 239.0 L792.1 238.7 L792.8 238.4 L793.4 238.2 L794.1 237.9 L794.7 237.7 L795.4 237.4 L796.0 237.1 L796.6 236.8 L797.3 236.6 L797.9 236.3 L798.6 236.0 L799.2 235.7 L799.8 235.4 L800.5 235.1 L801.1 234.7 L801.7 234.4 L802.3 234.1 L803.0 233.8 L803.6 233.4 L804.2 233.1 L804.8 232.7 L805.4 232.4 L806.0 232.0 L806.6 231.7 L807.2 231.3 L807.8 230.9 L808.4 230.5 L809.0 230.1 L809.5 229.7 L810.1 229.3 L810.6 228.8 L811.1 228.4 L811.6 227.9 L812.1 227.4 L812.6 226.9 L813.1 226.4 L813.6 225.9 L814.0 225.4 L814.5 224.8 L814.9 224.3 L815.4 223.7 L815.8 223.2 L816.2 222.6 L816.6 222.0 L817.0 221.4 L817.4 220.8 L817.8 220.2 L818.2 219.7 L818.6 219.1 L818.9 218.5 L819.3 217.9 L819.6 217.3 L819.9 216.6 L820.3 216.0 L820.6 215.4 L820.9 214.8 L821.2 214.1 L821.5 213.5 L821.8 212.9 L822.1 212.2 L822.4 211.6 L822.7 211.0 L823.0 210.3 L823.3 209.7 L823.6 209.0 L823.9 208.4 L824.2 207.8 L824.5 207.1 L824.8 206.5 L825.1 205.8 L825.3 205.2 L825.6 204.6 L825.9 203.9 L826.2 203.3 L826.5 202.6 L826.7 202.0 L827.0 201.3 L827.3 200.7 L827.6 200.0 L827.8 199.4 L828.1 198.7 L828.4 198.1 L828.6 197.4 L828.9 196.8 L829.2 196.1 L829.4 195.5 L829.7 194.8 L830.0 194.2 L830.2 193.5 L830.5 192.9 L830.7 192.2 L831.0 191.6 L831.2 190.9 L831.5 190.3 L831.7 189.6 L832.0 189.0 L832.2 188.3 L832.4 187.6 L832.7 187.0 L832.9 186.3 L833.2 185.7 L833.4 185.0 L833.7 184.3 L833.9 183.7 L834.2 183.0 L834.4 182.4 L834.6 181.7 L834.9 181.1 L835.1 180.4 L835.4 179.7 L835.6 179.1 L835.8 178.4 L836.1 177.8 L836.3 177.1 L836.6 176.4 L836.8 175.8 L837.1 175.1 L837.3 174.5 L837.5 173.8 L837.8 173.2 L838.0 172.5 L838.3 171.8 L838.5 171.2 L838.7 170.5 L839.0 169.9 L839.2 169.2 L839.4 168.5 L839.7 167.9 L839.9 167.2 L840.2 166.6 L840.4 165.9 L840.6 165.2 L840.9 164.6 L841.1 163.9 L841.3 163.2 L841.6 162.6 L841.8 161.9 L842.0 161.3 L842.3 160.6 L842.5 159.9 L842.7 159.3 L843.0 158.6 L843.2 157.9 L843.4 157.3 L843.7 156.6 L843.9 156.0 L844.1 155.3 L844.4 154.6 L844.6 154.0 L844.9 153.3 L845.1 152.7 L845.4 152.0 L845.6 151.3 L845.8 150.6 L846.1 150.0 L846.3 149.3 L846.5 148.6 L846.8 147.9 L847.0 147.2 L847.3 146.6 L847.6 145.9 L847.8 145.3 L848.1 144.7 L848.4 144.0 L848.7 143.4 L849.1 142.8 L849.5 142.3 L849.9 141.7 L850.3 141.1 L850.8 140.6 L851.3 140.1 L851.8 139.7 L852.4 139.4 L853.0 139.1 L853.6 138.9 L854.2 138.9 L854.8 138.9 L855.5 139.1 L856.1 139.3 L856.7 139.5 L857.3 139.8 L857.9 140.2 L858.5 140.6 L859.0 141.0 L859.5 141.5 L860.0 142.0 L860.5 142.6 L860.9 143.1 L861.3 143.7 L861.7 144.3 L862.1 144.9 L862.5 145.4 L862.9 146.0 L863.2 146.6 L863.6 147.2 L863.9 147.8 L864.2 148.5 L864.5 149.1 L864.9 149.7 L865.2 150.3 L865.5 151.0 L865.8 151.6 L866.1 152.3 L866.4 152.9 L866.6 153.5 L866.9 154.2 L867.2 154.8 L867.5 155.5 L867.8 156.1 L868.1 156.8 L868.4 157.4 L868.7 158.0 L869.0 158.7 L869.3 159.3 L869.6 160.0 L869.9 160.6 L870.2 161.2 L870.5 161.9 L870.8 162.5 L871.1 163.1 L871.4 163.8 L871.7 164.4 L872.0 165.0 L872.4 165.7 L872.7 166.3 L873.0 166.9 L873.3 167.6 L873.6 168.2 L873.9 168.8 L874.2 169.5 L874.5 170.1 L874.9 170.7 L875.2 171.3 L875.5 171.9 L875.8 172.5 L876.2 173.2 L876.5 173.8 L876.9 174.4 L877.2 175.0 L877.6 175.6 L878.0 176.2 L878.3 176.8 L878.7 177.4 L879.1 178.0 L879.5 178.6 L879.9 179.2 L880.3 179.8 L880.7 180.4 L881.1 181.0 L881.5 181.6 L881.9 182.1 L882.3 182.7 L882.7 183.3 L883.2 183.8 L883.6 184.3 L884.0 184.9 L884.5 185.4 L885.0 185.9 L885.5 186.4 L885.9 186.8 L886.4 187.3 L887.0 187.8 L887.5 188.2 L888.0 188.7 L888.6 189.1 L889.1 189.5 L889.7 190.0 L890.3 190.4 L890.9 190.8 L891.5 191.2 L892.1 191.5 L892.7 191.9 L893.3 192.2 L893.9 192.6 L894.6 192.9 L895.2 193.2 L895.8 193.5 L896.5 193.8 L897.1 194.1 L897.8 194.3 L898.4 194.6 L899.1 194.8 L899.8 195.0 L900.4 195.2 L901.1 195.3 L901.8 195.5 L902.5 195.6 L903.2 195.7 L903.8 195.7 L904.5 195.8 L905.2 195.9 L905.9 195.9 L906.6 196.0 L907.3 196.0 L908.0 196.1 L908.7 196.1 L909.4 196.2 L910.1 196.2 L910.8 196.2 L911.5 196.3 L912.3 196.3 L913.0 196.3 L913.7 196.3 L914.4 196.3 L915.1 196.4 L915.8 196.4 L916.5 196.4 L917.2 196.4 L917.9 196.4 L918.6 196.4 L919.3 196.4 L920.0 196.3 L920.7 196.3 L921.4 196.3 L922.1 196.2 L922.8 196.2 L923.5 196.1 L924.2 196.1 L924.9 196.0 L925.6 196.0 L926.3 195.9 L927.0 195.8 L927.7 195.8 L928.4 195.7 L929.1 195.6 L929.8 195.6 L930.5 195.5 L931.2 195.4 L931.9 195.4 L932.6 195.3 L933.3 195.3 L934.0 195.2 L934.7 195.2 L935.4 195.1 L936.1 195.1 L936.8 195.0 L937.5 195.0 L938.2 194.9 L938.9 194.9 L939.6 194.8 L940.3 194.8 L941.0 194.7 L941.7 194.7 L942.4 194.6 L943.1 194.6 L943.8 194.5 L944.5 194.5 L945.2 194.4 L945.9 194.4 L946.6 194.3 L947.3 194.3 L948.0 194.2 L948.7 194.2 L949.4 194.1 L950.1 194.1 L950.8 194.0 L951.5 194.0 L952.2 193.9 L952.9 193.9 L953.6 193.8 L954.3 193.8 L955.0 193.7 L955.7 193.7 L956.4 193.6 L957.1 193.6 L957.8 193.5 L958.5 193.5 L959.2 193.4 L959.9 193.3 L960.6 193.3 L961.3 193.2 L962.0 193.2 L962.7 193.1 L963.4 193.1 L964.1 193.0 L964.8 193.0 L965.5 192.9 L966.2 192.9 L966.9 192.9 L967.6 192.8 L968.3 192.8 L969.0 192.7 L969.7 192.7 L970.4 192.6 L971.1 192.6 L971.8 192.6 L972.5 192.5 L973.2 192.5 L973.9 192.4 L974.6 192.4 L975.3 192.4 L976.0 192.3 L976.7 192.3 L977.4 192.3 L978.1 192.2 L978.8 192.2 L979.5 192.1 L980.2 192.1 L980.9 192.1 L981.6 192.0 L982.3 192.0 L983.0 192.0 L983.7 191.9 L984.4 191.9 L985.1 191.8 L985.8 191.8 L986.5 191.8 L987.2 191.7 L987.9 191.7 L988.6 191.6 L989.3 191.6 L990.0 191.6 L990.7 191.5 L991.4 191.5 L992.1 191.5 L992.8 191.4 L993.5 191.4 L994.2 191.3 L994.8 191.3 L995.5 191.3 L996.2 191.2 L997.0 191.2" fill="none" stroke="#7fc27f" stroke-opacity="0.9" stroke-width="2.4" stroke-linejoin="round" stroke-linecap="round"/>
<path d="M650.4 339.3 L651.1 339.1 L651.8 338.8 L652.4 338.6 L653.1 338.4 L653.7 338.1 L654.4 337.9 L655.0 337.6 L655.7 337.4 L656.3 337.1 L657.0 336.8 L657.6 336.6 L658.3 336.3 L658.9 336.0 L659.5 335.7 L660.2 335.4 L660.8 335.1 L661.4 334.8 L662.0 334.5 L662.7 334.2 L663.3 333.8 L663.9 333.5 L664.5 333.1 L665.1 332.7 L665.7 332.4 L666.2 332.0 L666.8 331.6 L667.4 331.2 L668.0 330.8 L668.6 330.4 L669.1 330.0 L669.7 329.6 L670.3 329.1 L670.8 328.7 L671.4 328.3 L671.9 327.8 L672.5 327.4 L673.0 326.9 L673.5 326.5 L674.0 326.0 L674.5 325.5 L675.0 325.1 L675.5 324.6 L676.0 324.1 L676.5 323.6 L677.0 323.0 L677.5 322.5 L677.9 322.0 L678.4 321.5 L678.8 320.9 L679.3 320.4 L679.7 319.9 L680.2 319.3 L680.6 318.7 L681.0 318.2 L681.4 317.6 L681.8 317.1 L682.2 316.5 L682.6 315.9 L683.0 315.3 L683.4 314.7 L683.7 314.1 L684.0 313.5 L684.3 312.9 L684.7 312.2 L684.9 311.6 L685.2 311.0 L685.5 310.3 L685.8 309.7 L686.0 309.0 L686.3 308.3 L686.5 307.7 L686.7 307.0 L687.0 306.4 L687.2 305.7 L687.4 305.0 L687.6 304.4 L687.8 303.7 L688.0 303.0 L688.2 302.4 L688.4 301.7 L688.6 301.0 L688.8 300.3 L689.0 299.7 L689.2 299.0 L689.4 298.3 L689.6 297.6 L689.8 297.0 L689.9 296.3 L690.1 295.6 L690.3 294.9 L690.4 294.2 L690.6 293.5 L690.7 292.9 L690.8 292.2 L691.0 291.5 L691.1 290.8 L691.2 290.1 L691.3 289.4 L691.4 288.7 L691.5 288.0 L691.6 287.4 L691.7 286.7 L691.8 286.0 L691.9 285.3 L692.0 284.6 L692.1 283.9 L692.2 283.2 L692.3 282.5 L692.4 281.8 L692.5 281.1 L692.6 280.4 L692.6 279.7 L692.7 279.0 L692.8 278.3 L692.9 277.6 L693.0 276.9 L693.0 276.2 L693.1 275.5 L693.2 274.8 L693.3 274.1 L693.4 273.4 L693.4 272.7 L693.5 272.0 L693.6 271.3 L693.7 270.6 L693.7 269.9 L693.8 269.3 L693.9 268.6 L694.0 267.9 L694.0 267.2 L694.1 266.5 L694.2 265.8 L694.2 265.1 L694.3 264.4 L694.4 263.7 L694.4 263.0 L694.5 262.3 L694.6 261.6 L694.6 260.9 L694.7 260.2 L694.8 259.5 L694.8 258.8 L694.9 258.1 L695.0 257.4 L695.0 256.7 L695.1 256.0 L695.2 255.3 L695.2 254.6 L695.3 253.9 L695.4 253.2 L695.5 252.5 L695.5 251.8 L695.6 251.1 L695.7 250.4 L695.7 249.7 L695.8 249.0 L695.9 248.3 L695.9 247.6 L696.0 246.9 L696.1 246.2 L696.2 245.5 L696.2 244.8 L696.3 244.2 L696.4 243.5 L696.5 242.8 L696.5 242.1 L696.6 241.4 L696.7 240.7 L696.7 240.0 L696.8 239.3 L696.9 238.6 L697.0 237.9 L697.0 237.2 L697.1 236.5 L697.2 235.8 L697.2 235.1 L697.3 234.4 L697.4 233.7 L697.4 233.0 L697.5 232.3 L697.6 231.6 L697.6 230.9 L697.7 230.2 L697.7 229.5 L697.8 228.8 L697.9 228.1 L697.9 227.4 L698.0 226.7 L698.0 226.0 L698.1 225.3 L698.1 224.6 L698.2 223.9 L698.2 223.2 L698.3 222.5 L698.4 221.8 L698.4 221.1 L698.5 220.4 L698.5 219.7 L698.6 219.0 L698.6 218.3 L698.7 217.6 L698.7 216.9 L698.8 216.2 L698.8 215.5 L698.9 214.8 L698.9 214.1 L699.0 213.4 L699.0 212.7 L699.1 212.0 L699.1 211.3 L699.2 210.6 L699.2 210.0 L699.3 209.3 L699.3 208.6 L699.4 207.9 L699.4 207.2 L699.4 206.5 L699.5 205.8 L699.5 205.1 L699.6 204.4 L699.6 203.7 L699.7 203.0 L699.7 202.3 L699.8 201.6 L699.8 200.9 L699.9 200.2 L699.9 199.5 L700.0 198.8 L700.0 198.1 L700.0 197.4 L700.1 196.7 L700.1 196.0 L700.2 195.3 L700.2 194.6 L700.3 193.9 L700.3 193.2 L700.4 192.5 L700.4 191.8 L700.5 191.1 L700.5 190.4 L700.6 189.7 L700.6 189.0 L700.6 188.3 L700.7 187.6 L700.7 186.9 L700.8 186.2 L700.8 185.5 L700.9 184.8 L700.9 184.1 L701.0 183.4 L701.0 182.7 L701.1 182.0 L701.1 181.3 L701.2 180.6 L701.2 179.9 L701.3 179.2 L701.3 178.5 L701.3 177.8 L701.4 177.1 L701.4 176.4 L701.5 175.7 L701.5 175.0 L701.6 174.3 L701.6 173.6 L701.7 172.9 L701.7 172.2 L701.8 171.5 L701.8 170.8 L701.9 170.1 L701.9 169.4 L701.9 168.7 L702.0 168.0 L702.0 167.3 L702.1 166.6 L702.1 165.9 L702.2 165.2 L702.2 164.5 L702.2 163.8 L702.3 163.1 L702.3 162.4 L702.4 161.7 L702.4 161.0 L702.5 160.3 L702.5 159.6 L702.5 158.9 L702.6 158.2 L702.6 157.5 L702.7 156.8 L702.7 156.1 L702.8 155.4 L702.8 154.7 L702.9 154.0 L702.9 153.3 L702.9 152.6 L703.0 151.9 L703.0 151.2 L703.1 150.5 L703.1 149.8 L703.2 149.1 L703.2 148.4 L703.3 147.7 L703.3 147.0 L703.4 146.3 L703.4 145.6 L703.5 144.9 L703.5 144.2 L703.6 143.5 L703.6 142.8 L703.7 142.1 L703.7 141.4 L703.8 140.7 L703.8 140.0 L703.9 139.3 L703.9 138.6 L704.0 137.9 L704.0 137.2 L704.1 136.5 L704.1 135.8 L704.2 135.1 L704.2 134.4 L704.3 133.7 L704.3 133.1 L704.4 132.4 L704.5 131.7 L704.5 131.0 L704.6 130.3 L704.6 129.6 L704.7 128.9 L704.8 128.2 L704.8 127.5 L704.9 126.8 L705.0 126.1 L705.0 125.4 L705.1 124.7 L705.2 124.0 L705.3 123.3 L705.3 122.6 L705.4 121.9 L705.5 121.2 L705.6 120.5 L705.6 119.8 L705.7 119.1 L705.8 118.4 L705.9 117.7 L705.9 117.0 L706.0 116.3 L706.1 115.6 L706.2 114.9 L706.3 114.2 L706.3 113.5 L706.4 112.8 L706.5 112.1 L706.6 111.4 L706.7 110.7 L706.7 110.1 L706.8 109.4 L706.9 108.7 L707.0 108.0 L707.0 107.3 L707.1 106.6 L707.2 105.9 L707.3 105.2 L707.3 104.5 L707.4 103.8 L707.5 103.1 L707.6 102.4 L707.7 101.7 L707.8 101.0 L707.9 100.3 L708.0 99.6 L708.1 98.9 L708.2 98.1 L708.4 97.4 L708.5 96.6 L708.7 95.9 L708.8 95.1 L709.0 94.3 L709.2 93.6 L709.4 92.9 L709.7 92.4 L709.9 91.9 L710.2 91.6 L710.5 91.5 L710.9 91.5 L711.3 91.7 L711.6 92.1 L712.0 92.6 L712.4 93.2 L712.8 93.8 L713.1 94.5 L713.4 95.2 L713.7 96.0 L713.9 96.8 L714.2 97.6 L714.4 98.4 L714.6 99.1 L714.8 99.8 L715.1 100.4 L715.4 101.0 L715.7 101.4 L716.0 101.7 L716.4 101.8 L716.9 101.8 L717.3 101.7 L717.8 101.5 L718.3 101.2 L718.8 100.8 L719.2 100.4 L719.6 99.9 L719.9 99.4 L720.1 98.8 L720.4 98.3 L720.6 97.6 L720.8 97.0 L721.0 96.3 L721.2 95.6 L721.3 94.9 L721.5 94.2 L721.6 93.5 L721.8 92.7 L721.9 92.0 L722.0 91.2 L722.2 90.5 L722.3 89.7 L722.4 89.0 L722.6 88.3 L722.7 87.6 L722.9 86.9 L723.0 86.1 L723.2 85.5 L723.3 84.8 L723.5 84.1 L723.6 83.4 L723.7 82.7 L723.9 82.0 L724.0 81.3 L724.2 80.6 L724.3 80.0 L724.5 79.3 L724.6 78.6 L724.8 77.9 L724.9 77.2 L725.1 76.5 L725.2 75.8 L725.4 75.1 L725.5 74.4 L725.7 73.7 L725.9 72.9 L726.0 72.1 L726.2 71.4 L726.4 70.7 L726.6 70.0 L726.8 69.4 L727.1 69.0 L727.3 68.7 L727.6 68.6 L727.9 68.7 L728.3 68.9 L728.6 69.3 L728.9 69.8 L729.2 70.4 L729.4 71.0 L729.6 71.6 L729.8 72.3 L730.0 73.0 L730.1 73.7 L730.3 74.4 L730.4 75.0 L730.5 75.7 L730.6 76.5 L730.7 77.2 L730.8 77.9 L730.9 78.6 L731.0 79.3 L731.1 80.0 L731.1 80.7 L731.2 81.4 L731.3 82.1 L731.4 82.8 L731.5 83.5 L731.6 84.2 L731.7 84.9 L731.7 85.6 L731.8 86.3 L731.9 87.0 L732.0 87.7 L732.0 88.4 L732.1 89.1 L732.2 89.8 L732.3 90.5 L732.3 91.2 L732.4 91.9 L732.5 92.5 L732.5 93.2 L732.6 93.9 L732.7 94.6 L732.8 95.3 L732.8 96.0 L732.9 96.7 L733.0 97.4 L733.1 98.1 L733.1 98.8 L733.2 99.5 L733.3 100.2 L733.4 100.9 L733.4 101.6 L733.5 102.3 L733.6 103.0 L733.7 103.7 L733.7 104.4 L733.8 105.1 L733.9 105.8 L734.0 106.5 L734.0 107.2 L734.1 107.9 L734.2 108.6 L734.3 109.3 L734.3 110.0 L734.4 110.7 L734.5 111.4 L734.6 112.1 L734.7 112.8 L734.7 113.4 L734.8 114.1 L734.9 114.8 L735.0 115.5 L735.1 116.2 L735.2 116.9 L735.2 117.6 L735.3 118.3 L735.4 119.0 L735.5 119.7 L735.6 120.4 L735.7 121.1 L735.8 121.8 L735.8 122.5 L735.9 123.2 L736.0 123.9 L736.1 124.6 L736.2 125.3 L736.3 126.0 L736.4 126.7 L736.5 127.3 L736.6 128.0 L736.7 128.7 L736.8 129.4 L737.0 130.1 L737.1 130.8 L737.2 131.5 L737.3 132.2 L737.4 132.9 L737.6 133.6 L737.7 134.3 L737.8 134.9 L737.9 135.6 L738.0 136.3 L738.1 137.0 L738.2 137.7 L738.3 138.4 L738.4 139.1 L738.5 139.8 L738.6 140.5 L738.7 141.2 L738.8 141.9 L738.8 142.6 L738.9 143.3 L739.0 144.0 L739.1 144.7 L739.1 145.4 L739.2 146.1 L739.3 146.8 L739.4 147.5 L739.4 148.1 L739.5 148.8 L739.6 149.5 L739.6 150.2 L739.7 150.9 L739.8 151.6 L739.8 152.3 L739.9 153.0 L740.0 153.7 L740.1 154.4 L740.1 155.1 L740.2 155.8 L740.3 156.5 L740.3 157.2 L740.4 157.9 L740.5 158.6 L740.5 159.3 L740.6 160.0 L740.7 160.7 L740.7 161.4 L740.8 162.1 L740.9 162.8 L740.9 163.5 L741.0 164.2 L741.1 164.9 L741.2 165.6 L741.2 166.3 L741.3 167.0 L741.4 167.7 L741.4 168.4 L741.5 169.1 L741.6 169.8 L741.6 170.5 L741.7 171.2 L741.8 171.9 L741.9 172.6 L741.9 173.2 L742.0 173.9 L742.1 174.6 L742.2 175.3 L742.2 176.0 L742.3 176.7 L742.4 177.4 L742.5 178.1 L742.5 178.8 L742.6 179.5 L742.7 180.2 L742.8 180.9 L742.9 181.6 L742.9 182.3 L743.0 183.0 L743.1 183.7 L743.2 184.4 L743.3 185.1 L743.4 185.8 L743.5 186.5 L743.6 187.2 L743.6 187.9 L743.7 188.6 L743.8 189.3 L743.9 189.9 L744.0 190.6 L744.1 191.3 L744.2 192.0 L744.3 192.7 L744.4 193.4 L744.5 194.1 L744.6 194.8 L744.7 195.5 L744.8 196.2 L744.9 196.9 L745.0 197.6 L745.1 198.3 L745.2 199.0 L745.3 199.7 L745.4 200.4 L745.5 201.0 L745.7 201.7 L745.8 202.4 L745.9 203.1 L746.0 203.8 L746.1 204.5 L746.3 205.2 L746.4 205.9 L746.5 206.6 L746.7 207.2 L746.8 207.9 L746.9 208.6 L747.1 209.3 L747.2 210.0 L747.3 210.7 L747.5 211.4 L747.6 212.1 L747.8 212.8 L748.0 213.4 L748.1 214.1 L748.3 214.8 L748.4 215.5 L748.6 216.2 L748.8 216.9 L749.0 217.5 L749.2 218.2 L749.4 218.9 L749.5 219.6 L749.7 220.2 L749.9 220.9 L750.2 221.6 L750.4 222.2 L750.6 222.9 L750.8 223.5 L751.0 224.2 L751.3 224.9 L751.5 225.5 L751.8 226.2 L752.1 226.9 L752.3 227.5 L752.6 228.2 L752.9 228.9 L753.2 229.5 L753.5 230.2 L753.9 230.8 L754.2 231.4 L754.5 232.0 L754.9 232.6 L755.3 233.2 L755.6 233.8 L756.0 234.3 L756.4 234.9 L756.8 235.4 L757.3 235.9 L757.7 236.4 L758.2 236.9 L758.7 237.4 L759.3 237.9 L759.8 238.3 L760.4 238.8 L761.0 239.2 L761.6 239.6 L762.2 240.0 L762.8 240.3 L763.4 240.7 L764.0 241.0 L764.6 241.3 L765.3 241.5 L765.9 241.8 L766.6 242.0 L767.2 242.2 L767.9 242.4 L768.6 242.6 L769.3 242.8 L769.9 243.0 L770.6 243.1 L771.3 243.3 L772.0 243.4 L772.7 243.5 L773.4 243.6 L774.1 243.7 L774.8 243.7 L775.5 243.7 L776.2 243.8 L776.9 243.8 L777.6 243.8 L778.3 243.8 L779.0 243.7 L779.7 243.7 L780.4 243.7 L781.1 243.7 L781.9 243.7 L782.6 243.6 L783.3 243.6 L784.0 243.6 L784.7 243.6 L785.4 243.5 L786.1 243.5 L786.7 243.4 L787.4 243.4 L788.1 243.3 L788.8 243.2 L789.5 243.1 L790.2 243.0 L790.9 242.8 L791.5 242.6 L792.2 242.5 L792.9 242.3 L793.6 242.0 L794.2 241.8 L794.9 241.6 L795.6 241.4 L796.2 241.1 L796.9 240.9 L797.6 240.6 L798.2 240.4 L798.9 240.2 L799.5 239.9 L800.2 239.6 L800.8 239.4 L801.5 239.1 L802.1 238.8 L802.8 238.5 L803.4 238.2 L804.0 237.9 L804.7 237.6 L805.3 237.3 L805.9 237.0 L806.6 236.7 L807.2 236.4 L807.8 236.0 L808.4 235.7 L809.0 235.3 L809.6 234.9 L810.2 234.6 L810.7 234.2 L811.3 233.8 L811.9 233.3 L812.4 232.9 L812.9 232.4 L813.5 232.0 L814.0 231.5 L814.5 231.0 L815.0 230.5 L815.5 230.0 L816.0 229.5 L816.5 229.0 L816.9 228.5 L817.4 227.9 L817.8 227.4 L818.2 226.8 L818.7 226.3 L819.1 225.7 L819.5 225.2 L819.9 224.6 L820.2 224.0 L820.6 223.4 L821.0 222.8 L821.3 222.2 L821.7 221.6 L822.1 221.0 L822.4 220.4 L822.7 219.7 L823.1 219.1 L823.4 218.5 L823.7 217.9 L824.0 217.2 L824.3 216.6 L824.6 216.0 L824.9 215.3 L825.2 214.7 L825.5 214.1 L825.8 213.4 L826.1 212.8 L826.3 212.1 L826.6 211.5 L826.9 210.8 L827.1 210.2 L827.4 209.5 L827.6 208.9 L827.9 208.2 L828.1 207.6 L828.4 206.9 L828.7 206.3 L828.9 205.6 L829.2 205.0 L829.4 204.3 L829.7 203.6 L829.9 203.0 L830.2 202.3 L830.4 201.7 L830.7 201.0 L830.9 200.4 L831.2 199.7 L831.4 199.1 L831.7 198.4 L831.9 197.8 L832.2 197.1 L832.4 196.4 L832.7 195.8 L832.9 195.1 L833.1 194.5 L833.4 193.8 L833.6 193.1 L833.8 192.5 L834.0 191.8 L834.3 191.2 L834.5 190.5 L834.7 189.8 L834.9 189.2 L835.1 188.5 L835.3 187.8 L835.5 187.2 L835.7 186.5 L835.9 185.8 L836.2 185.1 L836.4 184.5 L836.6 183.8 L836.8 183.1 L837.0 182.5 L837.2 181.8 L837.4 181.1 L837.6 180.4 L837.8 179.8 L838.0 179.1 L838.2 178.4 L838.4 177.8 L838.6 177.1 L838.8 176.4 L839.0 175.7 L839.2 175.1 L839.4 174.4 L839.6 173.7 L839.8 173.1 L840.0 172.4 L840.2 171.7 L840.4 171.0 L840.6 170.4 L840.8 169.7 L841.0 169.0 L841.2 168.4 L841.4 167.7 L841.6 167.0 L841.8 166.3 L842.0 165.7 L842.2 165.0 L842.4 164.3 L842.7 163.7 L842.9 163.0 L843.1 162.4 L843.3 161.7 L843.6 161.0 L843.8 160.4 L844.0 159.7 L844.3 159.0 L844.5 158.4 L844.7 157.7 L845.0 157.0 L845.2 156.4 L845.4 155.7 L845.7 155.0 L845.9 154.4 L846.2 153.7 L846.4 153.0 L846.7 152.4 L847.0 151.7 L847.3 151.1 L847.6 150.5 L847.9 149.8 L848.2 149.2 L848.5 148.6 L848.8 148.0 L849.2 147.3 L849.5 146.7 L849.9 146.1 L850.3 145.4 L850.7 144.8 L851.2 144.2 L851.6 143.7 L852.1 143.2 L852.6 142.9 L853.1 142.6 L853.7 142.5 L854.2 142.5 L854.8 142.6 L855.3 142.8 L855.9 143.2 L856.5 143.5 L857.0 144.0 L857.6 144.4 L858.1 144.9 L858.6 145.5 L859.0 146.0 L859.4 146.6 L859.8 147.1 L860.2 147.7 L860.6 148.3 L860.9 148.9 L861.3 149.6 L861.6 150.2 L861.9 150.8 L862.2 151.5 L862.5 152.1 L862.8 152.7 L863.1 153.4 L863.4 154.0 L863.7 154.7 L864.0 155.3 L864.2 156.0 L864.5 156.6 L864.8 157.3 L865.0 157.9 L865.3 158.6 L865.6 159.2 L865.8 159.9 L866.1 160.5 L866.4 161.2 L866.6 161.8 L866.9 162.4 L867.2 163.1 L867.4 163.7 L867.7 164.4 L868.0 165.0 L868.2 165.7 L868.5 166.3 L868.8 167.0 L869.1 167.6 L869.3 168.3 L869.6 168.9 L869.9 169.5 L870.2 170.2 L870.5 170.8 L870.8 171.5 L871.1 172.1 L871.4 172.7 L871.7 173.4 L872.0 174.0 L872.3 174.6 L872.6 175.2 L872.9 175.9 L873.3 176.5 L873.6 177.1 L873.9 177.7 L874.2 178.3 L874.6 179.0 L874.9 179.6 L875.3 180.2 L875.6 180.8 L876.0 181.4 L876.4 182.0 L876.7 182.6 L877.1 183.2 L877.5 183.8 L877.9 184.4 L878.3 184.9 L878.7 185.5 L879.1 186.1 L879.5 186.6 L879.9 187.2 L880.4 187.7 L880.8 188.3 L881.3 188.8 L881.7 189.3 L882.2 189.8 L882.7 190.3 L883.2 190.9 L883.7 191.4 L884.2 191.8 L884.7 192.3 L885.2 192.8 L885.7 193.3 L886.2 193.7 L886.8 194.2 L887.3 194.6 L887.9 195.1 L888.4 195.5 L889.0 195.9 L889.6 196.3 L890.1 196.7 L890.7 197.1 L891.3 197.5 L891.9 197.8 L892.5 198.2 L893.1 198.5 L893.8 198.9 L894.4 199.2 L895.0 199.5 L895.6 199.8 L896.3 200.1 L896.9 200.4 L897.5 200.7 L898.2 201.0 L898.8 201.2 L899.5 201.5 L900.2 201.7 L900.8 201.9 L901.5 202.1 L902.2 202.3 L902.8 202.4 L903.5 202.6 L904.2 202.7 L904.9 202.9 L905.6 203.0 L906.3 203.1 L907.0 203.2 L907.7 203.3 L908.4 203.4 L909.1 203.5 L909.8 203.6 L910.5 203.6 L911.2 203.7 L911.9 203.7 L912.6 203.7 L913.3 203.8 L914.0 203.8 L914.7 203.7 L915.4 203.7 L916.1 203.7 L916.8 203.7 L917.5 203.6 L918.2 203.6 L918.9 203.6 L919.6 203.5 L920.3 203.5 L921.0 203.4 L921.7 203.3 L922.4 203.3 L923.1 203.2 L923.8 203.2 L924.5 203.1 L925.2 203.1 L925.9 203.0 L926.6 203.0 L927.3 202.9 L928.0 202.9 L928.7 202.8 L929.4 202.8 L930.0 202.7 L930.7 202.7 L931.4 202.6 L932.1 202.5 L932.8 202.5 L933.5 202.4 L934.2 202.4 L934.9 202.3 L935.6 202.3 L936.3 202.2 L937.0 202.2 L937.7 202.1 L938.4 202.1 L939.1 202.0 L939.8 202.0 L940.5 201.9 L941.2 201.9 L941.9 201.8 L942.6 201.8 L943.3 201.7 L944.0 201.7 L944.7 201.6 L945.4 201.6 L946.1 201.6 L946.8 201.5 L947.5 201.5 L948.2 201.4 L948.9 201.4 L949.6 201.4 L950.3 201.3 L951.0 201.3 L951.7 201.2 L952.4 201.2 L953.1 201.2 L953.8 201.1 L954.5 201.1 L955.2 201.1 L955.9 201.0 L956.6 201.0 L957.3 200.9 L958.0 200.9 L958.7 200.9 L959.4 200.8 L960.1 200.8 L960.8 200.7 L961.5 200.7 L962.2 200.7 L962.9 200.6 L963.6 200.6 L964.3 200.5 L965.0 200.5 L965.7 200.5 L966.4 200.4 L967.1 200.4 L967.8 200.3 L968.5 200.3 L969.2 200.3 L969.9 200.2 L970.6 200.2 L971.3 200.1 L972.0 200.1 L972.7 200.1 L973.4 200.0 L974.1 200.0 L974.8 200.0 L975.5 199.9 L976.2 199.9 L976.9 199.9 L977.6 199.8 L978.3 199.8 L979.0 199.8 L979.7 199.7 L980.4 199.7 L981.1 199.7 L981.8 199.6 L982.5 199.6 L983.2 199.6 L983.9 199.5 L984.6 199.5 L985.3 199.5 L986.0 199.4 L986.7 199.4 L987.4 199.4 L988.1 199.3 L988.8 199.3 L989.5 199.3 L990.2 199.3 L990.9 199.2 L991.6 199.2 L992.3 199.2 L993.0 199.1 L993.7 199.1 L994.3 199.1 L995.0 199.1 L995.7 199.0 L996.5 199.0" fill="none" stroke="#e60000" stroke-width="3.4" stroke-linejoin="round" stroke-linecap="round"/>
</svg>
</body></html>
